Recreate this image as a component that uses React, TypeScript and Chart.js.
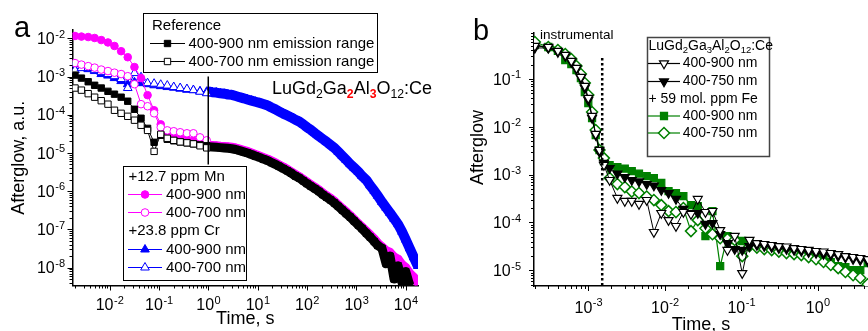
import React, { useEffect, useRef } from 'react';
import { Chart, registerables } from 'chart.js';

Chart.register(...registerables);

const FONT = '"Liberation Sans", Arial, Helvetica, sans-serif';
const MAGENTA = '#ff00ff';
const BLUE = '#0000ff';
const GREEN = '#008000';
const BLACK = '#000000';

// ---------------- Panel a data ----------------
const aEarlyTime = [0.002, 0.0027, 0.0037, 0.005, 0.0068, 0.0093, 0.0126, 0.0172, 0.0234, 0.032, 0.0435, 0.059, 0.08, 0.109, 0.148, 0.2, 0.27, 0.37, 0.5, 0.68, 0.93];
const aLateTime = [1, 1.2, 1.45, 1.75, 2.1, 2.5, 3, 3.6, 4.3, 5.2, 6.2, 7.5, 9, 11, 13, 16, 19, 23, 27, 33, 40, 48, 58, 70, 84, 100, 120, 145, 175, 210, 250, 300, 360, 430, 520, 620, 750, 900, 1100, 1300, 1600, 1900, 2300, 2700, 3300, 4000, 4800, 5800, 7000, 8400, 10000, 12000, 14500, 17500];

const aRef900Early = [1.09e-3, 9.1e-4, 7.3e-4, 5.9e-4, 5.0e-4, 4.1e-4, 3.45e-4, 2.88e-4, 2.26e-4, 1.39e-4, 8.1e-5, 4.4e-5, 1.9e-5, 2.9e-5, 2.28e-5, 2.08e-5, 1.95e-5, 1.84e-5, 1.73e-5, 1.63e-5, 1.54e-5];
const aRef900Late = [1.45e-5, 1.43e-5, 1.41e-5, 1.38e-5, 1.35e-5, 1.32e-5, 1.29e-5, 1.23e-5, 1.15e-5, 1.07e-5, 1.0e-5, 9.1e-6, 8.3e-6, 7.6e-6, 6.9e-6, 6.3e-6, 5.6e-6, 5.0e-6, 4.5e-6, 3.9e-6, 3.4e-6, 2.95e-6, 2.5e-6, 2.2e-6, 1.86e-6, 1.58e-6, 1.35e-6, 1.15e-6, 9.8e-7, 8.1e-7, 6.9e-7, 5.9e-7, 4.9e-7, 4.0e-7, 3.2e-7, 2.6e-7, 2.1e-7, 1.66e-7, 1.29e-7, 1.05e-7, 7.9e-8, 6.3e-8, 4.8e-8, 3.8e-8, 3.2e-8, 1.26e-8, 2.0e-8, 5.0e-9, 1.12e-8, 4.0e-9, 7.9e-9, 3.5e-9, null, null];
const aRef700 = [5.0e-4, 4.4e-4, 3.56e-4, 2.88e-4, 2.33e-4, 1.89e-4, 1.31e-4, 1.09e-4, 9.1e-5, 7.2e-5, 5.3e-5, 3.9e-5, 1.1e-5, 3.08e-5, 2.42e-5, 2.14e-5, 1.95e-5, 1.84e-5, 1.73e-5, 1.54e-5, 1.36e-5];

const aMn900Early = [1.15e-2, 1.11e-2, 1.08e-2, 1.02e-2, 9.0e-3, 7.8e-3, 6.3e-3, 4.6e-3, 3.2e-3, 1.77e-3, 9.1e-4, 3.25e-4, 1.31e-4, 5.6e-5, 3.27e-5, 2.9e-5, 2.56e-5, 2.28e-5, 2.08e-5, 1.9e-5, 1.73e-5];
const aMn900Late = [1.58e-5, 1.57e-5, 1.55e-5, 1.51e-5, 1.48e-5, 1.45e-5, 1.41e-5, 1.35e-5, 1.26e-5, 1.17e-5, 1.1e-5, 1.0e-5, 9.1e-6, 8.3e-6, 7.6e-6, 6.9e-6, 6.2e-6, 5.5e-6, 4.9e-6, 4.3e-6, 3.7e-6, 3.2e-6, 2.75e-6, 2.4e-6, 2.04e-6, 1.74e-6, 1.48e-6, 1.26e-6, 1.07e-6, 8.9e-7, 7.6e-7, 6.5e-7, 5.4e-7, 4.4e-7, 3.5e-7, 2.9e-7, 2.3e-7, 1.82e-7, 1.41e-7, 1.15e-7, 8.9e-8, 7.2e-8, 5.6e-8, 4.4e-8, 3.5e-8, 2.8e-8, 2.5e-8, 1.9e-8, 1.66e-8, 1.2e-8, 1.0e-8, 7.1e-9, 5.6e-9, 4.0e-9];
const aMn700 = [2.25e-3, 2.05e-3, 1.87e-3, 1.71e-3, 1.52e-3, 1.39e-3, 1.26e-3, 1.16e-3, 1.02e-3, 6.3e-4, 1.89e-4, 1.67e-4, 1.09e-4, 4.7e-5, 3.9e-5, 3.7e-5, 3.48e-5, 3.27e-5, 3.27e-5, 2.56e-5, 2.14e-5];

const aCr900Early = [2.11e-3, 1.77e-3, 1.56e-3, 1.39e-3, 1.16e-3, 1.06e-3, 9.1e-4, 7.6e-4, 6.3e-4, 7.1e-4, 6.7e-4, 6.3e-4, 5.9e-4, 5.6e-4, 5.3e-4, 5.1e-4, 4.8e-4, 4.5e-4, 4.4e-4, 4.1e-4, 4.0e-4];
const aCr900Late = [4.07e-4, 3.89e-4, 3.8e-4, 3.63e-4, 3.55e-4, 3.39e-4, 3.31e-4, 3.09e-4, 2.88e-4, 2.69e-4, 2.51e-4, 2.34e-4, 2.19e-4, 2.04e-4, 1.91e-4, 1.74e-4, 1.55e-4, 1.38e-4, 1.23e-4, 1.07e-4, 9.5e-5, 8.5e-5, 7.4e-5, 6.6e-5, 5.6e-5, 4.7e-5, 4.0e-5, 3.3e-5, 2.75e-5, 2.3e-5, 1.95e-5, 1.62e-5, 1.35e-5, 1.07e-5, 8.3e-6, 6.6e-6, 5.1e-6, 4.1e-6, 3.2e-6, 2.5e-6, 1.95e-6, 1.41e-6, 1.02e-6, 7.6e-7, 5.2e-7, 3.7e-7, 2.7e-7, 1.9e-7, 1.35e-7, 8.7e-8, 5.4e-8, 3.2e-8, 1.86e-8, 1.1e-8];
const aCr700 = [1.47e-3, 1.66e-3, 1.66e-3, 1.47e-3, 1.3e-3, 1.16e-3, 1.02e-3, 8.6e-4, 5.0e-4, 1.23e-3, 9.6e-4, 6.7e-4, 6.5e-4, 6.1e-4, 5.8e-4, 5.3e-4, 5.0e-4, 4.7e-4, 4.4e-4, 4.0e-4, 3.66e-4];

const aMarkerTime = [1, 1];
const aMarkerLevel = [1e-3, 5e-6];

const aXTickValues = [1e-2, 1e-1, 1, 10, 100, 1000, 10000];
const aXTickExps = ['-2', '-1', '0', '1', '2', '3', '4'];
const aYTickValues = [1e-8, 1e-7, 1e-6, 1e-5, 1e-4, 1e-3, 1e-2];
const aYTickExps = ['-8', '-7', '-6', '-5', '-4', '-3', '-2'];

// ---------------- Panel b data ----------------
const bTime = [0.0002, 0.0003, 0.0004, 0.0005, 0.0006, 0.0007, 0.0008, 0.0009, 0.001, 0.00112, 0.00125, 0.0014, 0.0016, 0.0019, 0.0024, 0.003, 0.0037, 0.0046, 0.0058, 0.0072, 0.009, 0.0112, 0.014, 0.0175, 0.022, 0.027, 0.034, 0.042, 0.053, 0.066, 0.082, 0.103, 0.128, 0.16, 0.2, 0.25, 0.31, 0.39, 0.49, 0.61, 0.76, 0.95, 1.19, 1.48, 1.85, 2.3, 2.9, 3.6, 4.5];
const bHost900 = [0.49, 0.467, 0.386, 0.318, 0.238, 0.17, 0.11, 0.0714, 0.0401, 0.0168, 0.00706, 0.00327, 0.00159, 7.7e-4, 3.24e-4, 2.81e-4, 2.81e-4, 2.43e-4, 2.94e-4, 6.3e-5, 1.57e-4, 1.12e-4, 8.4e-5, 1.65e-4, 1.5e-4, 3.09e-4, 1.65e-4, 1.73e-4, 6.9e-5, 2.65e-5, 5.2e-5, 8.7e-6, 4.3e-5, 3.7e-5, 3.53e-5, 3.37e-5, 3.2e-5, 3.13e-5, 2.91e-5, 2.78e-5, 2.65e-5, 2.52e-5, 2.46e-5, 2.29e-5, 2.18e-5, 1.98e-5, 1.89e-5, 1.8e-5, 1.71e-5];
const bHost750 = [0.446, 0.446, 0.367, 0.303, 0.227, 0.162, 0.105, 0.0649, 0.0364, 0.0153, 0.00673, 0.00297, 0.00175, 0.00137, 1.05e-3, 8.9e-4, 7.7e-4, 7.2e-4, 6.35e-4, 5.9e-4, 4.76e-4, 4.12e-4, 3.09e-4, 1.91e-4, 1.57e-4, 1.57e-4, 9.3e-5, 9.7e-5, 5.7e-5, 3.7e-5, 2.78e-5, 2.65e-5, 3.2e-5, 3.37e-5, 3.2e-5, 3.05e-5, 2.91e-5, 2.78e-5, 2.65e-5, 2.52e-5, 2.4e-5, 2.29e-5, 2.18e-5, 2.08e-5, 1.98e-5, 1.85e-5, 1.71e-5, 1.63e-5, 1.56e-5];
const bFe900 = [0.514, 0.467, 0.386, 0.249, 0.206, 0.154, 0.105, 0.0535, 0.0315, 0.0153, 0.00673, 0.00327, 0.00193, 0.00159, 0.00144, 0.00134, 0.00119, 0.00105, 9.35e-4, 8.5e-4, 6.7e-4, 4.54e-4, 4.12e-4, 3.56e-4, 2.31e-4, 2.2e-4, 5.2e-5, 1.73e-4, 1.22e-5, 5.2e-5, 4.3e-5, 4.1e-5, 3.7e-5, 3.53e-5, 3.37e-5, 3.2e-5, 3.05e-5, 2.84e-5, 2.65e-5, 2.4e-5, 2.29e-5, 1.98e-5, 1.8e-5, 1.49e-5, 1.22e-5, 1.17e-5, 1.01e-5, 1.01e-5, 1.42e-5];
const bFe750 = [0.594, 0.467, 0.405, 0.333, 0.262, 0.187, 0.127, 0.0824, 0.0462, 0.0204, 0.00857, 0.00327, 0.00222, 8.5e-4, 6.35e-4, 5.5e-4, 4.43e-4, 4.12e-4, 3.48e-4, 2.94e-4, 2.31e-4, 1.73e-4, 1.65e-4, 2.0e-4, 6.6e-5, 1.12e-4, 7.6e-5, 5.7e-5, 4.7e-5, 4.5e-5, 4.3e-5, 1.98e-5, 3.2e-5, 2.99e-5, 2.78e-5, 2.65e-5, 2.46e-5, 2.29e-5, 2.18e-5, 2.08e-5, 1.89e-5, 1.71e-5, 1.49e-5, 1.29e-5, 1.11e-5, 9.2e-6, 7.9e-6, 6.9e-6, 5.1e-6];

const bInstrTime = [0.00152, 0.00152];
const bInstrLevel = [0.275, 4.7e-6];

const bXTickValues = [1e-3, 1e-2, 1e-1, 1];
const bXTickExps = ['-3', '-2', '-1', '0'];
const bYTickValues = [1e-5, 1e-4, 1e-3, 1e-2, 1e-1];
const bYTickExps = ['-5', '-4', '-3', '-2', '-1'];

// ---------------- helpers ----------------
function pts(times: number[], vals: (number | null)[]) {
  const out: { x: number; y: number }[] = [];
  times.forEach((t, i) => {
    const v = vals[i];
    if (v !== null && v !== undefined) out.push({ x: t, y: v });
  });
  return out;
}

function logTicks(min: number, max: number) {
  const out: any[] = [];
  for (let e = Math.floor(Math.log10(min)); e <= Math.ceil(Math.log10(max)); e++) {
    for (let m = 1; m <= 9; m++) {
      const v = parseFloat((m * Math.pow(10, e)).toPrecision(6));
      if (v >= min && v <= max) out.push({ value: v, major: m === 1 });
    }
  }
  return out;
}

function isDecade(v: number) {
  const l = Math.log10(v);
  return Math.abs(l - Math.round(l)) < 1e-6;
}

function drawTickMarks(chart: any) {
  const ctx = chart.ctx;
  const area = chart.chartArea;
  const xs = chart.scales.x;
  const ys = chart.scales.y;
  ctx.save();
  ctx.strokeStyle = '#000';
  ctx.lineWidth = 1;
  for (const t of xs.ticks) {
    const px = Math.round(xs.getPixelForValue(t.value)) + 0.5;
    const len = isDecade(t.value) ? 5 : 3;
    ctx.beginPath();
    ctx.moveTo(px, area.bottom);
    ctx.lineTo(px, area.bottom + len);
    ctx.stroke();
  }
  for (const t of ys.ticks) {
    const py = Math.round(ys.getPixelForValue(t.value)) + 0.5;
    const len = isDecade(t.value) ? 5 : 3;
    ctx.beginPath();
    ctx.moveTo(area.left, py);
    ctx.lineTo(area.left - len, py);
    ctx.stroke();
  }
  ctx.restore();
}

// power-of-ten tick labels "10" with a raised exponent, placed through the scales
function drawTickLabels(chart: any, xv: number[], xe: string[], yv: number[], ye: string[], xBase: number, yRight: number) {
  const ctx = chart.ctx;
  const xs = chart.scales.x;
  const ys = chart.scales.y;
  const main = `16px ${FONT}`;
  const sup = `11px ${FONT}`;
  ctx.save();
  ctx.fillStyle = '#000';
  ctx.textAlign = 'left';
  ctx.textBaseline = 'alphabetic';
  const widths = (e: string) => {
    ctx.font = main;
    const w1 = ctx.measureText('10').width;
    ctx.font = sup;
    const w2 = ctx.measureText(e).width;
    return [w1, w2];
  };
  const draw = (x: number, base: number, e: string, w1: number) => {
    ctx.font = main;
    ctx.fillText('10', x, base);
    ctx.font = sup;
    ctx.fillText(e, x + w1 + 0.5, base - 6.5);
  };
  xv.forEach((v, i) => {
    const px = xs.getPixelForValue(v);
    const [w1, w2] = widths(xe[i]);
    draw(px - (w1 + w2) / 2, xBase, xe[i], w1);
  });
  yv.forEach((v, i) => {
    const py = ys.getPixelForValue(v);
    const [w1, w2] = widths(ye[i]);
    draw(yRight - w1 - w2 - 0.5, py + 5.7, ye[i], w1);
  });
  ctx.restore();
}

function drawMarker(ctx: any, style: string, x: number, y: number, r: number, fill: string, stroke: string, lw: number, rot = 0) {
  ctx.beginPath();
  if (style === 'circle') {
    ctx.arc(x, y, r, 0, Math.PI * 2);
  } else if (style === 'rect') {
    const s = r * Math.SQRT2;
    ctx.rect(x - s / 2, y - s / 2, s, s);
  } else if (style === 'rectRot') {
    ctx.moveTo(x, y - r);
    ctx.lineTo(x + r, y);
    ctx.lineTo(x, y + r);
    ctx.lineTo(x - r, y);
    ctx.closePath();
  } else {
    let a = (rot * Math.PI) / 180;
    ctx.moveTo(x + Math.sin(a) * r, y - Math.cos(a) * r);
    for (let k = 0; k < 2; k++) {
      a += (2 * Math.PI) / 3;
      ctx.lineTo(x + Math.sin(a) * r, y - Math.cos(a) * r);
    }
    ctx.closePath();
  }
  ctx.fillStyle = fill;
  ctx.fill();
  ctx.lineWidth = lw;
  ctx.strokeStyle = stroke;
  ctx.stroke();
}

type Seg = { t: string; sub?: boolean; color?: string; bold?: boolean };

function drawRich(ctx: any, x: number, y: number, segs: Seg[], size: number) {
  let cx = x;
  ctx.textBaseline = 'alphabetic';
  ctx.textAlign = 'left';
  for (const s of segs) {
    const fs = s.sub ? size * 0.68 : size;
    ctx.font = `${s.bold ? 'bold ' : ''}${fs}px ${FONT}`;
    ctx.fillStyle = s.color || '#000';
    ctx.fillText(s.t, cx, y + (s.sub ? size * 0.24 : 0));
    cx += ctx.measureText(s.t).width;
  }
}

function text(ctx: any, s: string, x: number, y: number, size: number) {
  ctx.font = `${size}px ${FONT}`;
  ctx.fillStyle = '#000';
  ctx.textAlign = 'left';
  ctx.textBaseline = 'middle';
  ctx.fillText(s, x, y);
}

function legendRow(ctx: any, x0: number, x1: number, y: number, color: string, mk: any, label: string, tx: number, size: number) {
  ctx.beginPath();
  ctx.strokeStyle = color;
  ctx.lineWidth = 1.2;
  ctx.moveTo(x0, y);
  ctx.lineTo(x1, y);
  ctx.stroke();
  drawMarker(ctx, mk.style, (x0 + x1) / 2, y, mk.r, mk.fill, mk.stroke, mk.lw, mk.rot || 0);
  text(ctx, label, tx, y, size);
}

const formulaA: Seg[] = [
  { t: 'LuGd' }, { t: '2', sub: true }, { t: 'Ga' }, { t: '2', sub: true, color: '#ff0000', bold: true },
  { t: 'Al' }, { t: '3', sub: true, color: '#ff0000', bold: true }, { t: 'O' }, { t: '12', sub: true }, { t: ':Ce' },
];
const formulaB: Seg[] = [
  { t: 'LuGd' }, { t: '2', sub: true }, { t: 'Ga' }, { t: '3', sub: true },
  { t: 'Al' }, { t: '2', sub: true }, { t: 'O' }, { t: '12', sub: true }, { t: ':Ce' },
];

const MK = {
  refFilled: { style: 'rect', r: 4.5, fill: BLACK, stroke: BLACK, lw: 1 },
  refOpen: { style: 'rect', r: 4.5, fill: '#fff', stroke: BLACK, lw: 1 },
  mnFilled: { style: 'circle', r: 3.8, fill: MAGENTA, stroke: MAGENTA, lw: 1 },
  mnOpen: { style: 'circle', r: 3.8, fill: '#fff', stroke: MAGENTA, lw: 1 },
  crFilled: { style: 'triangle', r: 5, fill: BLUE, stroke: BLUE, lw: 1 },
  crOpen: { style: 'triangle', r: 5, fill: '#fff', stroke: BLUE, lw: 1 },
  hostOpen: { style: 'triangle', r: 5.2, fill: '#fff', stroke: BLACK, lw: 1.2, rot: 180 },
  hostFilled: { style: 'triangle', r: 5.2, fill: BLACK, stroke: BLACK, lw: 1.2, rot: 180 },
  feFilled: { style: 'rect', r: 5, fill: GREEN, stroke: GREEN, lw: 1.2 },
  feOpen: { style: 'rectRot', r: 5.5, fill: '#fff', stroke: GREEN, lw: 1.5 },
};

function ds(label: string, data: any[], color: string, mk: any, extra: any = {}) {
  return {
    label,
    data,
    borderColor: color,
    borderWidth: 1,
    pointStyle: mk.style,
    pointRadius: mk.r,
    pointRotation: mk.rot || 0,
    pointBackgroundColor: mk.fill,
    pointBorderColor: mk.stroke,
    pointBorderWidth: mk.lw,
    fill: false,
    tension: 0,
    ...extra,
  };
}

// dense (t >= 1 s) part of the long-decay series is recorded so densely that it forms a band
function denseBand(width: number) {
  return {
    segment: {
      borderWidth: (c: any) => (c.p0.parsed.x >= 0.99 ? width : undefined),
    },
    borderJoinStyle: 'round',
  };
}

function logAxis(o: any) {
  return {
    type: 'logarithmic',
    min: o.min,
    max: o.max,
    afterBuildTicks: (s: any) => {
      s.ticks = logTicks(o.min, o.max);
    },
    afterFit: (s: any) => {
      if (o.height !== undefined) s.height = o.height;
      if (o.width !== undefined) s.width = o.width;
    },
    grid: { display: false, drawTicks: false },
    border: { display: true, color: '#000', width: 1.5 },
    ticks: { display: false, autoSkip: false },
    title: o.title
      ? { display: true, text: o.title, color: '#000', font: { family: FONT, size: 18 }, padding: o.titlePadding }
      : { display: false },
  };
}

export default function App() {
  const refA = useRef<HTMLCanvasElement>(null);
  const refB = useRef<HTMLCanvasElement>(null);

  useEffect(() => {
    const decorA = {
      id: 'decorA',
      afterDraw(chart: any) {
        const ctx = chart.ctx;
        drawTickMarks(chart);
        drawTickLabels(chart, aXTickValues, aXTickExps, aYTickValues, aYTickExps, 310, 65);
        ctx.save();
        ctx.font = `29px ${FONT}`;
        ctx.fillStyle = '#000';
        ctx.textAlign = 'left';
        ctx.textBaseline = 'alphabetic';
        ctx.fillText('a', 14, 37);
        drawRich(ctx, 272, 94, formulaA, 18);
        // legend 1
        ctx.fillStyle = '#fff';
        ctx.fillRect(143.5, 13.5, 234, 59);
        ctx.strokeStyle = '#000';
        ctx.lineWidth = 1;
        ctx.strokeRect(143.5, 13.5, 234, 59);
        text(ctx, 'Reference', 152, 25.5, 15);
        legendRow(ctx, 150, 185, 43.5, BLACK, MK.refFilled, '400-900 nm emission range', 188.5, 15);
        legendRow(ctx, 150, 185, 61.5, BLACK, MK.refOpen, '400-700 nm emission range', 188.5, 15);
        // legend 2
        ctx.fillStyle = '#fff';
        ctx.fillRect(123.5, 166.5, 123, 114);
        ctx.strokeStyle = '#000';
        ctx.lineWidth = 1;
        ctx.strokeRect(123.5, 166.5, 123, 114);
        text(ctx, '+12.7 ppm Mn', 128.5, 177, 15);
        legendRow(ctx, 128, 162, 194.5, MAGENTA, MK.mnFilled, '400-900 nm', 166, 15);
        legendRow(ctx, 128, 162, 212.5, MAGENTA, MK.mnOpen, '400-700 nm', 166, 15);
        text(ctx, '+23.8 ppm Cr', 128.5, 231, 15);
        legendRow(ctx, 128, 162, 249.5, BLUE, MK.crFilled, '400-900 nm', 166, 15);
        legendRow(ctx, 128, 162, 267.5, BLUE, MK.crOpen, '400-700 nm', 166, 15);
        ctx.restore();
      },
    };

    const decorB = {
      id: 'decorB',
      afterDraw(chart: any) {
        const ctx = chart.ctx;
        drawTickMarks(chart);
        drawTickLabels(chart, bXTickValues, bXTickExps, bYTickValues, bYTickExps, 312.5, 71);
        ctx.save();
        ctx.font = `29px ${FONT}`;
        ctx.fillStyle = '#000';
        ctx.textAlign = 'left';
        ctx.textBaseline = 'alphabetic';
        ctx.fillText('b', 23, 40);
        // y title
        ctx.save();
        ctx.translate(28, 147.5);
        ctx.rotate(-Math.PI / 2);
        ctx.font = `18px ${FONT}`;
        ctx.textAlign = 'center';
        ctx.textBaseline = 'middle';
        ctx.fillText('Afterglow', 0, 0);
        ctx.restore();
        text(ctx, 'instrumental', 90, 35, 13.5);
        // legend
        ctx.fillStyle = '#fff';
        ctx.fillRect(197.5, 37.5, 122, 119);
        ctx.strokeStyle = '#444';
        ctx.lineWidth = 1.5;
        ctx.strokeRect(197.5, 37.5, 122, 119);
        drawRich(ctx, 198.5, 50, formulaB, 14);
        legendRow(ctx, 198, 230, 63.5, BLACK, MK.hostOpen, '400-900 nm', 232.7, 14);
        legendRow(ctx, 198, 230, 81.5, BLACK, MK.hostFilled, '400-750 nm', 232.7, 14);
        text(ctx, '+ 59 mol. ppm Fe', 198.5, 99, 14);
        legendRow(ctx, 198, 230, 116, GREEN, MK.feFilled, '400-900 nm', 232.7, 14);
        legendRow(ctx, 198, 230, 133, GREEN, MK.feOpen, '400-750 nm', 232.7, 14);
        ctx.restore();
      },
    };

    const common = {
      animation: false,
      responsive: false,
      maintainAspectRatio: false,
      devicePixelRatio: 1,
      events: [],
    };

    const chartA = new Chart(refA.current as HTMLCanvasElement, {
      type: 'line',
      data: {
        datasets: [
          {
            label: 't = 1 s',
            data: pts(aMarkerTime, aMarkerLevel),
            borderColor: BLACK,
            borderWidth: 1.5,
            pointRadius: 0,
            fill: false,
          },
          ds('Reference 400-700 nm', pts(aEarlyTime, aRef700), BLACK, MK.refOpen),
          ds('Reference 400-900 nm', pts(aEarlyTime.concat(aLateTime), aRef900Early.concat(aRef900Late as any)), BLACK, MK.refFilled, denseBand(9)),
          ds('+12.7 ppm Mn 400-700 nm', pts(aEarlyTime, aMn700), MAGENTA, MK.mnOpen),
          ds('+12.7 ppm Mn 400-900 nm', pts(aEarlyTime.concat(aLateTime), aMn900Early.concat(aMn900Late)), MAGENTA, MK.mnFilled, denseBand(9)),
          ds('+23.8 ppm Cr 400-700 nm', pts(aEarlyTime, aCr700), BLUE, MK.crOpen),
          ds('+23.8 ppm Cr 400-900 nm', pts(aEarlyTime.concat(aLateTime), aCr900Early.concat(aCr900Late)), BLUE, MK.crFilled, denseBand(10)),
        ],
      },
      options: {
        ...common,
        layout: { padding: { left: 0, top: 30, right: 32, bottom: 0 }, autoPadding: false },
        plugins: { legend: { display: false }, tooltip: { enabled: false } },
        scales: {
          x: logAxis({ min: 0.00178, max: 17700, height: 45.5, title: 'Time, s', titlePadding: { top: 0, bottom: 1 } }),
          y: logAxis({ min: 3.4e-9, max: 0.0165, width: 72.5, title: 'Afterglow, a.u.', titlePadding: { top: 8, bottom: 0 } }),
        },
      } as any,
      plugins: [decorA],
    } as any);

    const chartB = new Chart(refB.current as HTMLCanvasElement, {
      type: 'line',
      data: {
        datasets: [
          {
            label: 'instrumental',
            data: pts(bInstrTime, bInstrLevel),
            borderColor: BLACK,
            borderWidth: 2.5,
            borderDash: [2.5, 2.5],
            pointRadius: 0,
            fill: false,
          },
          ds('LuGd2Ga3Al2O12:Ce 400-900 nm', pts(bTime, bHost900), BLACK, MK.hostOpen),
          ds('LuGd2Ga3Al2O12:Ce 400-750 nm', pts(bTime, bHost750), BLACK, MK.hostFilled),
          ds('+ 59 mol. ppm Fe 400-750 nm', pts(bTime, bFe750), GREEN, MK.feOpen, { borderWidth: 1.2 }),
          ds('+ 59 mol. ppm Fe 400-900 nm', pts(bTime, bFe900), GREEN, MK.feFilled, { borderWidth: 1.2 }),
        ],
      },
      options: {
        ...common,
        layout: { padding: { left: 0, top: 33, right: 0, bottom: 0 }, autoPadding: false },
        plugins: { legend: { display: false }, tooltip: { enabled: false } },
        scales: {
          x: logAxis({ min: 1.95e-4, max: 4.54, height: 54, title: 'Time, s', titlePadding: { top: 0, bottom: 4 } }),
          y: logAxis({ min: 4.7e-6, max: 0.916, width: 84, title: '' }),
        },
      } as any,
      plugins: [decorB],
    } as any);

    return () => {
      chartA.destroy();
      chartB.destroy();
    };
  }, []);

  return (
    <div style={{ position: 'absolute', left: 0, top: 0, width: 868, height: 331, overflow: 'hidden', background: '#fff' }}>
      <canvas ref={refA} width={450} height={331} style={{ position: 'absolute', left: 0, top: 0, width: 450, height: 331 }} />
      <canvas ref={refB} width={418} height={340} style={{ position: 'absolute', left: 450, top: 0, width: 418, height: 340 }} />
    </div>
  );
}
